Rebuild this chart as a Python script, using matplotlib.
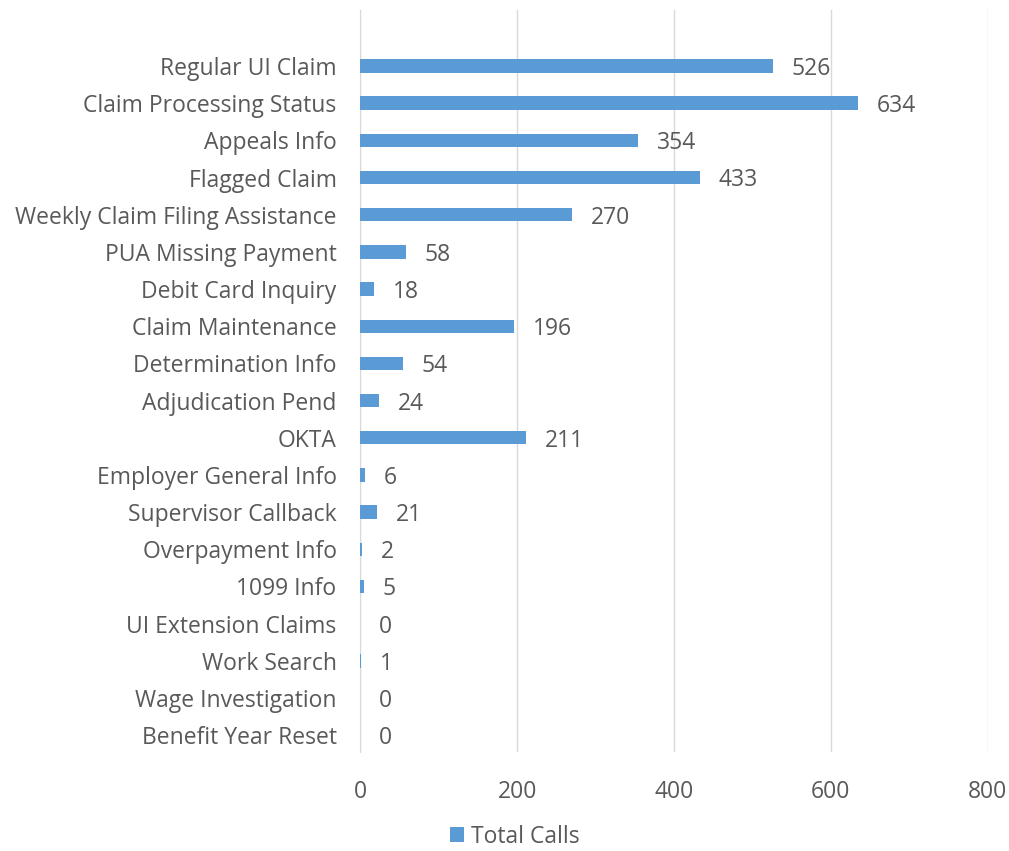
import matplotlib.pyplot as plt
import numpy as np

# Datos
categorias = ["Regular UI Claim", "Claim Processing Status", "Appeals Info", "Flagged Claim",
              "Weekly Claim Filing Assistance", "PUA Missing Payment", "Debit Card Inquiry",
              "Claim Maintenance", "Determination Info", "Adjudication Pend", "OKTA",
              "Employer General Info", "Supervisor Callback", "Overpayment Info", "1099 Info",
              "UI Extension Claims", "Work Search", "Wage Investigation", "Benefit Year Reset"]
llamadas = [526, 634, 354, 433, 270, 58, 18, 196, 54, 24, 211, 6, 21, 2, 5, 0, 1, 0, 0]
xticks = [0, 200, 400, 600, 800]

plt.rcParams['font.family'] = ['Open Sans', 'DejaVu Sans']
color_barra = '#5B9BD5'
color_texto = '#595959'
tam = 16.5

fig = plt.figure(figsize=(10.09, 8.51), dpi=100)
ax = fig.add_axes([0.357, 0.116, 0.622, 0.872])

y = np.arange(len(categorias))
barras = ax.barh(y, llamadas, height=0.36, color=color_barra, label='Total Calls', zorder=3)

# Etiquetas de valor
for yi, v in zip(y, llamadas):
    ax.text(v + 24, yi + 0.08, str(v), va='center', ha='left', fontsize=tam, color=color_texto)

ax.set_xlim(0, 800)
ax.set_ylim(18.46, -1.5)
ax.set_yticks(y)
ax.set_yticklabels(categorias, fontsize=tam, color=color_texto)
ax.set_xticks(xticks)
ax.set_xticklabels([str(t) for t in xticks], fontsize=tam, color=color_texto)
ax.tick_params(axis='both', length=0)
ax.tick_params(axis='x', pad=20)
ax.tick_params(axis='y', pad=17)

ax.grid(axis='x', color='#D9D9D9', linewidth=1, zorder=0)
for s in ['top', 'right', 'bottom']:
    ax.spines[s].set_visible(False)
ax.spines['left'].set_color('#D9D9D9')

fig.legend(handles=[barras], labels=['Total Calls'], loc='center', bbox_to_anchor=(0.51, 0.017),
           frameon=False, fontsize=tam, handlelength=0.6, handleheight=0.6, handletextpad=0.3,
           labelcolor=color_texto)

fig.savefig('out.png', dpi=100)
